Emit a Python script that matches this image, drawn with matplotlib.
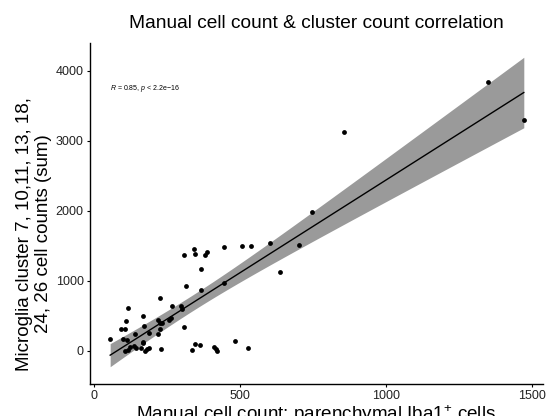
import numpy as np
import matplotlib
matplotlib.use("Agg")
import matplotlib.pyplot as plt

plt.rcParams['font.family'] = ['Liberation Sans', 'DejaVu Sans']
plt.rcParams['mathtext.fontset'] = 'custom'
plt.rcParams['mathtext.rm'] = 'Liberation Sans'
plt.rcParams['mathtext.it'] = 'Liberation Sans:italic'

manual_counts = [55, 115, 110, 92, 107, 100, 112, 106, 115, 123, 137, 143, 140, 161, 167, 169,
                 175, 180, 189, 170, 166, 187, 218, 224, 220, 226, 232, 226, 229, 258, 263, 268,
                 297, 302, 309, 313, 309, 335, 342, 347, 347, 363, 366, 367, 381, 387, 411, 418,
                 420, 445, 446, 483, 505, 528, 538, 602, 638, 700, 745, 856, 1350, 1471]
cluster_counts = [167, 605, 429, 310, 310, 163, 153, 0, 10, 57, 67, 34, 234, 34, 129, 106,
                  0, 20, 43, 357, 496, 248, 243, 314, 439, 400, 391, 753, 20, 439, 471, 634,
                  634, 591, 334, 929, 1363, 10, 1453, 1377, 96, 77, 1163, 863, 1367, 1410, 57, 20,
                  0, 1486, 963, 143, 1500, 43, 1500, 1534, 1124, 1510, 1977, 3129, 3843, 3291]
x_ticks = [0, 500, 1000, 1500]
y_ticks = [0, 1000, 2000, 3000, 4000]
title = "Manual cell count & cluster count correlation"
x_label = "Manual cell count: parenchymal Iba1$^{+}$ cells"
y_label = "Microglia cluster 7, 10,11, 13, 18,\n24, 26 cell counts (sum)"
cor_label = r"$\it{R}$ = 0.85, $\it{p}$ < 2.2e−16"

x = np.array(manual_counts, dtype=float)
y = np.array(cluster_counts, dtype=float)
n = len(x)
slope, intercept = np.polyfit(x, y, 1)
xs = np.linspace(x.min(), x.max(), 200)
ys = intercept + slope * xs
resid = y - (intercept + slope * x)
s = np.sqrt(np.sum(resid ** 2) / (n - 2))
sxx = np.sum((x - x.mean()) ** 2)
se = s * np.sqrt(1.0 / n + (xs - x.mean()) ** 2 / sxx)
tval = 1.999  # t(0.975, ~60 df)
lo, hi = ys - tval * se, ys + tval * se

fig = plt.figure(figsize=(5.57, 4.16), dpi=100)
ax = fig.add_axes([0.1616, 0.0769, 0.8134, 0.8197])

ax.fill_between(xs, lo, hi, color='#9a9a9a', linewidth=0, zorder=1)
ax.plot(xs, ys, color='black', linewidth=1.0, zorder=2)
ax.scatter(x, y, s=12, color='black', zorder=3, linewidths=0)

ax.set_xlim(-14, 1537)
ax.set_ylim(-476, 4396)
ax.set_xticks(x_ticks)
ax.set_yticks(y_ticks)
ax.tick_params(axis='both', labelsize=9, length=2.5, width=0.8, colors='black', pad=2)
ax.tick_params(axis='both', labelcolor='#222222')
for sp in ['top', 'right']:
    ax.spines[sp].set_visible(False)
for sp in ['left', 'bottom']:
    ax.spines[sp].set_linewidth(1.0)

ax.set_title(title, fontsize=13.8, pad=11)
ax.set_xlabel(x_label, fontsize=13.6, labelpad=1)
ax.set_ylabel(y_label, fontsize=13.5, labelpad=4, linespacing=1.15)
ax.yaxis.set_label_coords(-0.085, 0.44)
ax.text(55, 3753, cor_label, fontsize=5, ha='left', va='center')

fig.savefig("out.png", dpi=100)
